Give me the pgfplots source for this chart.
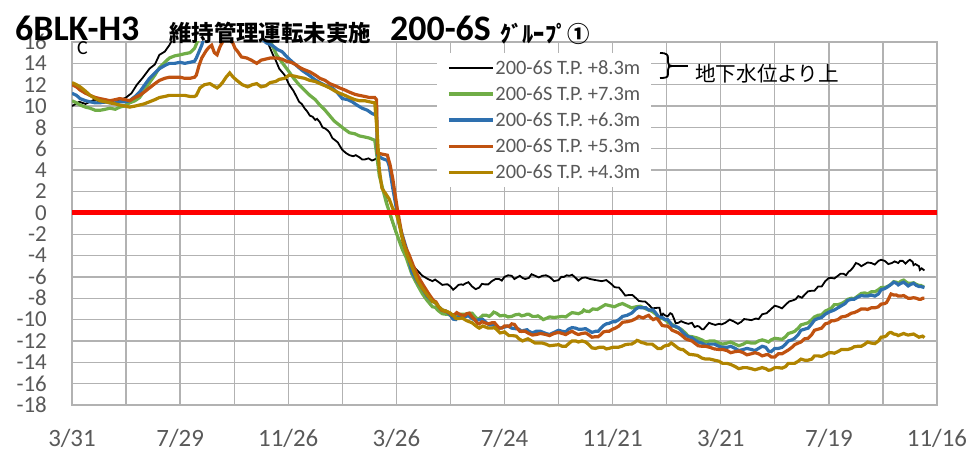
\documentclass[border=0pt]{standalone}
\usepackage{fontspec}
\setmainfont{Carlito}
\newfontfamily\cjk{Noto Sans CJK JP}
\usepackage{pgfplots}
\pgfplotsset{compat=1.18}
\definecolor{cgreen}{RGB}{112,173,71}
\definecolor{cblue}{RGB}{46,112,175}
\definecolor{corange}{RGB}{192,82,16}
\definecolor{cgold}{RGB}{176,132,0}
\definecolor{tgray}{RGB}{89,89,89}
\definecolor{ggray}{RGB}{178,178,178}
\begin{document}
\begin{tikzpicture}
\path[use as bounding box] (0bp,0bp) rectangle (979bp,450bp);
\begin{axis}[
  at={(72bp,45bp)}, anchor=south west,
  scale only axis, width=865bp, height=363bp,
  xmin=0, xmax=960, ymin=-18, ymax=16,
  xtick={0,120,...,960},
  xticklabels={3/31,7/29,11/26,3/26,7/24,11/21,3/21,7/19,11/16},
  minor xtick={60,180,...,900},
  ytick={-18,-16,...,16},
  yticklabels={-18,-16,-14,-12,-10,-8,-6,-4,-2,0,2,4,6,8,10,12,14,16},
  xmajorgrids, xminorgrids, ymajorgrids,
  grid style={ggray, line width=1.3bp},
  minor grid style={ggray, line width=1.3bp},
  axis line style={ggray, line width=1.3bp},
  major tick length=0pt, minor tick length=0pt,
  tick style={draw=none},
  yticklabel style={font=\fontsize{23}{23}\selectfont, text=tgray, anchor=east, inner sep=0pt, xshift=-25bp},
  xticklabel style={font=\fontsize{25}{25}\selectfont, text=tgray, anchor=center, inner sep=0pt, yshift=-33bp},
  legend style={at={(rel axis cs:0.422,0.970)}, anchor=north west, draw=none, fill=white,
    font=\fontsize{20.5}{20.5}\selectfont, text=tgray, inner xsep=10bp, inner ysep=6bp,
    row sep=8.8bp, nodes={inner sep=1bp}},
  legend cell align=left,
  legend image code/.code={\draw[#1] (0bp,0bp) -- (44bp,0bp);},
]
% T.P. +8.3m
\addplot[black, line width=1.8bp] coordinates {
(0,10.0) (8,10.4) (15,10.2) (25,10.6) (35,10.3) (45,10.5) (55,10.6) (60,10.8) (66,11.2) (72,12.0) (78,12.6) (86,13.5) (92,13.9) (97,14.8) (103,15.1) (108,15.7) (112,16.3) (120,17.5) (205,17.5) (212,16.6) (216,16.2) (223,14.8) (226,14.3) (230,13.5) (236,12.9) (241,12.0) (246,11.4) (252,10.4) (255,10.2) (258,9.8) (261,9.5) (264,9.1) (267,9.0) (270,8.7) (272,8.8) (275,8.5) (278,8.0) (281,7.9) (284,7.7) (286,7.5) (289,7.0) (292,6.8) (295,6.6) (297,6.3) (300,5.9) (304,5.6) (308,5.4) (312,5.3) (315,5.4) (319,5.2) (322,5.0) (325,5.0) (329,5.1) (333,4.9) (336,5.0) (338,5.1) (341,3.8) (344,2.5) (349,1.2) (352,0.0) (356,-1.0) (360,-2.0) (366,-3.0) (371,-3.9) (377,-4.8) (382,-5.3) (389,-5.9) (395,-6.2)
(400,-6.4) (403,-6.25) (407,-6.5) (411,-6.75) (415,-6.7) (417,-6.7) (420,-6.9) (423,-7.2) (426,-7.0) (429,-6.75) (432,-6.7) (434,-6.75) (437,-6.6) (440,-6.5) (444,-6.9) (448,-7.15) (452,-7.0) (455,-6.65) (458,-6.7) (462,-6.7) (466,-6.4) (470,-6.2) (474,-6.2) (477,-6.35) (480,-6.0) (484,-5.85) (488,-5.9) (491,-6.2) (495,-6.0) (497,-5.9) (500,-6.1) (503,-6.2) (507,-6.1) (510,-5.75) (514,-5.9) (518,-6.05) (522,-5.9) (526,-5.85) (530,-6.0) (535,-6.4) (540,-6.3) (543,-6.0) (546,-6.0) (549,-5.85) (552,-5.9) (555,-5.8) (559,-6.1) (562,-6.35) (566,-6.1) (570,-6.05) (575,-6.2) (581,-6.3) (588,-6.4) (593,-6.3) (599,-6.7) (602,-6.95) (605,-7.0) (607,-7.0) (610,-7.3) (614,-7.75) (618,-7.7) (622,-7.7) (626,-8.0) (629,-8.25) (633,-8.3) (636,-8.3) (640,-8.6) (644,-8.95) (649,-8.9) (652,-8.9) (654,-9.7) (656,-9.45) (658,-9.6) (661,-9.7) (664,-9.4) (666,-9.5) (668,-9.9) (670,-10.35) (673,-10.3) (676,-10.15) (680,-10.3) (684,-10.4) (688,-10.3) (691,-10.7) (694,-10.6) (696,-10.65) (699,-10.9) (701,-10.9) (704,-10.6) (707,-10.3) (710,-10.4) (714,-10.5) (718,-10.4) (721,-10.45) (725,-10.3) (730,-10.0) (735,-10.2) (739,-10.4) (743,-10.2) (746,-9.95) (750,-10.0) (754,-10.05) (759,-9.9) (762,-9.95) (766,-9.5) (771,-9.4) (776,-9.0) (780,-8.7) (784,-8.8) (788,-8.95) (792,-8.6) (796,-8.3) (800,-8.2) (803,-8.1) (806,-7.8) (810,-7.95) (814,-7.6) (817,-7.35) (821,-7.3) (824,-7.3) (828,-6.9) (832,-6.9) (836,-6.4) (840,-6.1) (843,-6.1) (846,-6.15) (850,-5.9) (853,-5.7) (856,-5.7) (859,-5.85) (862,-5.5) (864,-5.4) (867,-5.1) (870,-4.7) (873,-4.8) (876,-5.0) (880,-4.8) (883,-4.65) (887,-4.7) (891,-4.85) (895,-4.5) (898,-4.4) (902,-4.5) (906,-4.8) (910,-4.7) (913,-4.55) (917,-4.7) (919,-4.5) (922,-4.5) (925,-4.75) (928,-4.5) (930,-4.4) (933,-4.6) (934,-4.9) (936,-4.8) (938,-4.9) (940,-5.0) (941,-5.35) (943,-5.2) (946,-5.4)
};
\addlegendentry{200-6S T.P. +8.3m}
% T.P. +7.3m
\addplot[cgreen, line width=3.2bp] coordinates {
(0,10.5) (5,10.3) (9,10.1) (15,9.9) (20,9.8) (26,9.6) (31,9.6) (37,9.7) (42,9.8) (48,9.7) (53,9.9) (58,10.0) (64,10.3) (70,10.5) (75,10.8) (80,11.4) (86,12.2) (92,12.9) (97,13.6) (103,14.1) (108,14.5) (114,14.7) (120,14.8) (125,14.9) (131,15.0) (136,15.4) (140,16.2) (142,17.0) (218,17.0) (222,15.7) (227,14.8) (233,14.1) (241,13.2) (246,12.6) (252,12.0) (258,11.5) (264,11.0) (270,10.6) (275,10.1) (280,9.7) (286,9.1) (291,8.6) (297,8.2) (303,7.8) (308,7.5) (314,7.4) (319,7.2) (325,7.1) (330,7.0) (336,6.8) (338,5.6) (341,3.5) (345,2.2) (349,0.9) (353,-0.1) (358,-1.4) (363,-2.6) (367,-3.5) (371,-4.2) (377,-5.7) (383,-6.7) (389,-7.6) (394,-8.2)
(400,-8.8) (403,-8.85) (407,-9.2) (411,-9.45) (415,-9.5) (417,-9.5) (420,-9.6) (423,-9.8) (426,-9.7) (429,-9.5) (433,-9.5) (437,-9.5) (441,-9.4) (444,-9.4) (447,-9.7) (450,-9.95) (452,-9.9) (456,-9.6) (460,-9.6) (463,-9.7) (466,-9.5) (468,-9.3) (471,-9.4) (475,-9.65) (480,-9.6) (484,-9.75) (488,-9.7) (492,-9.55) (496,-9.5) (499,-9.65) (502,-9.6) (505,-9.5) (507,-9.5) (511,-9.7) (515,-9.7) (517,-9.65) (520,-9.8) (523,-10.0) (526,-9.9) (530,-9.75) (535,-9.8) (540,-9.75) (544,-9.7) (548,-9.75) (552,-9.5) (555,-9.35) (559,-9.4) (562,-9.45) (566,-9.3) (568,-9.1) (570,-9.2) (574,-9.25) (578,-9.0) (583,-9.05) (588,-8.8) (592,-8.6) (597,-8.7) (602,-8.8) (607,-8.6) (611,-8.5) (616,-8.7) (621,-8.9) (626,-8.8) (631,-8.75) (637,-9.0) (640,-9.1) (643,-9.2) (645,-9.3) (648,-9.5) (651,-9.85) (655,-9.9) (658,-10.0) (662,-10.3) (664,-10.35) (667,-10.5) (670,-10.7) (673,-10.8) (676,-10.9) (680,-11.2) (684,-11.55) (688,-11.6) (693,-11.7) (699,-11.9) (703,-12.1) (708,-12.0) (713,-12.0) (718,-12.2) (722,-12.3) (727,-12.2) (731,-12.1) (736,-12.3) (740,-12.45) (745,-12.3) (749,-12.1) (754,-12.2) (758,-12.2) (762,-12.0) (766,-11.9) (770,-12.0) (773,-12.1) (776,-11.9) (780,-11.75) (784,-11.8) (788,-11.85) (792,-11.6) (795,-11.3) (799,-11.2) (802,-11.1) (806,-10.8) (809,-10.5) (813,-10.4) (817,-10.3) (821,-10.0) (824,-9.75) (828,-9.6) (832,-9.55) (836,-9.2) (840,-9.05) (843,-8.9) (846,-8.6) (850,-8.6) (854,-8.5) (858,-8.3) (861,-8.1) (865,-8.0) (868,-8.05) (872,-7.8) (876,-7.55) (880,-7.5) (883,-7.6) (887,-7.4) (891,-7.4) (895,-7.2) (898,-7.0) (902,-7.0) (905,-6.9) (909,-6.7) (912,-6.45) (915,-6.5) (917,-6.6) (920,-6.4) (923,-6.3) (926,-6.5) (928,-6.6) (931,-6.6) (934,-6.55) (937,-6.7) (940,-6.8) (942,-6.8) (944,-6.9) (946,-6.9)
};
\addlegendentry{200-6S T.P. +7.3m}
% T.P. +6.3m
\addplot[cblue, line width=3.2bp] coordinates {
(0,11.2) (5,11.0) (9,10.7) (15,10.5) (20,10.4) (26,10.3) (31,10.3) (37,10.4) (42,10.3) (48,10.3) (53,10.4) (59,10.4) (64,10.5) (70,10.9) (75,11.3) (80,11.9) (86,12.6) (92,13.1) (97,13.5) (103,13.8) (108,14.0) (114,14.0) (120,14.1) (125,14.0) (131,14.1) (136,14.2) (138,14.5) (144,15.7) (147,16.5) (149,17.5) (205,17.0) (208,16.6) (212,16.2) (216,15.9) (222,15.7) (228,15.3) (233,15.1) (241,14.4) (249,13.8) (256,13.3) (263,12.9) (269,12.5) (275,12.2) (282,11.9) (289,11.7) (295,11.2) (300,10.7) (306,10.6) (311,10.4) (316,10.1) (322,9.8) (328,9.6) (333,9.3) (336,9.2) (338,9.4) (339,5.4) (344,5.1) (350,4.9) (352,4.4) (356,2.3) (360,0.4) (363,-1.0) (367,-2.2) (371,-3.3) (377,-5.5) (383,-6.4) (389,-7.1) (394,-7.8)
(400,-8.3) (403,-8.4) (407,-8.8) (411,-9.1) (415,-9.2) (417,-9.35) (420,-9.6) (423,-9.95) (426,-10.0) (429,-9.75) (432,-9.8) (434,-9.8) (437,-9.7) (440,-9.65) (444,-9.9) (448,-10.1) (452,-10.0) (456,-10.0) (460,-10.3) (463,-10.5) (466,-10.5) (468,-10.5) (471,-10.6) (475,-10.8) (480,-10.7) (484,-10.6) (488,-10.8) (492,-10.85) (496,-10.9) (499,-11.1) (502,-11.0) (505,-10.95) (507,-11.1) (511,-11.25) (515,-11.1) (520,-11.1) (526,-11.3) (530,-11.4) (535,-11.2) (540,-11.0) (544,-11.1) (548,-11.15) (551,-10.9) (555,-10.75) (559,-10.8) (562,-10.9) (566,-10.9) (570,-10.85) (573,-11.0) (577,-11.2) (581,-11.1) (584,-11.1) (587,-10.8) (590,-10.55) (593,-10.4) (596,-10.35) (600,-10.2) (603,-10.2) (607,-10.0) (611,-9.7) (616,-9.6) (621,-9.4) (626,-9.0) (629,-8.85) (632,-8.9) (634,-8.9) (637,-8.9) (640,-9.1) (642,-9.1) (645,-9.1) (648,-9.4) (651,-9.75) (655,-9.8) (656,-9.85) (658,-10.0) (661,-10.0) (664,-10.3) (666,-10.6) (669,-10.6) (673,-10.75) (677,-11.1) (681,-11.45) (684,-11.6) (688,-11.7) (691,-11.9) (695,-12.1) (699,-12.2) (703,-12.4) (708,-12.3) (713,-12.3) (718,-12.5) (722,-12.6) (727,-12.6) (731,-12.5) (736,-12.7) (740,-12.9) (745,-12.8) (749,-12.7) (754,-12.8) (758,-12.9) (762,-12.7) (766,-12.5) (770,-12.6) (773,-12.95) (776,-13.0) (780,-12.7) (784,-12.7) (788,-12.6) (792,-12.3) (795,-12.0) (799,-11.9) (802,-11.75) (806,-11.4) (809,-11.0) (813,-10.9) (817,-10.8) (821,-10.4) (824,-10.05) (828,-9.9) (832,-9.8) (836,-9.5) (840,-9.3) (843,-9.2) (846,-9.1) (850,-8.9) (854,-8.7) (858,-8.5) (861,-8.2) (865,-8.1) (868,-8.1) (872,-7.9) (876,-7.75) (880,-7.8) (883,-7.8) (887,-7.7) (891,-7.8) (895,-7.6) (898,-7.2) (902,-7.1) (905,-6.95) (909,-6.7) (912,-6.5) (915,-6.6) (917,-6.75) (920,-6.6) (923,-6.5) (926,-6.7) (928,-6.85) (931,-6.7) (934,-6.6) (937,-6.8) (940,-6.9) (942,-6.9) (944,-6.95) (946,-7.0)
};
\addlegendentry{200-6S T.P. +6.3m}
% T.P. +5.3m
\addplot[corange, line width=3.2bp] coordinates {
(0,12.0) (5,11.8) (9,11.5) (15,11.2) (20,11.0) (26,10.8) (31,10.7) (37,10.6) (42,10.5) (48,10.6) (53,10.7) (59,10.6) (64,10.5) (70,10.8) (75,11.0) (80,11.3) (86,11.7) (92,12.1) (97,12.4) (103,12.6) (108,12.7) (114,12.7) (120,12.7) (125,12.6) (131,12.6) (136,12.7) (138,12.9) (141,13.8) (144,14.5) (149,15.2) (152,15.5) (155,15.7) (158,15.0) (161,14.8) (164,15.5) (167,16.0) (170,16.8) (172,17.2) (175,16.5) (178,16.0) (181,15.4) (184,15.1) (188,14.6) (194,14.5) (199,14.3) (205,14.0) (210,14.3) (215,14.4) (220,14.5) (227,14.5) (233,14.4) (238,14.2) (243,14.1) (248,13.9) (253,13.6) (258,13.4) (264,13.2) (270,12.9) (275,12.6) (281,12.4) (286,12.1) (292,11.9) (297,11.7) (303,11.5) (308,11.3) (314,11.1) (319,11.0) (325,10.9) (330,10.8) (336,10.8) (338,10.6) (339,5.6) (344,5.5) (350,5.4) (353,4.5) (356,3.2) (359,1.5) (361,0.4) (366,-2.0) (370,-3.2) (374,-3.9) (379,-5.0) (385,-6.1) (390,-6.8) (396,-7.6)
(401,-8.2) (404,-8.35) (407,-8.8) (410,-9.1) (413,-9.2) (416,-9.25) (419,-9.4) (422,-9.6) (425,-9.5) (427,-9.35) (430,-9.5) (433,-9.6) (436,-9.6) (438,-9.45) (441,-9.4) (444,-9.75) (447,-10.0) (450,-10.35) (452,-10.4) (455,-10.2) (458,-10.3) (462,-10.4) (466,-10.3) (469,-10.3) (472,-10.6) (474,-10.8) (477,-10.8) (480,-10.6) (483,-10.6) (485,-10.65) (488,-10.4) (491,-10.45) (494,-10.8) (497,-11.1) (500,-11.1) (503,-11.1) (507,-11.3) (511,-11.45) (515,-11.4) (520,-11.3) (526,-11.4) (530,-11.5) (535,-11.3) (540,-11.2) (544,-11.3) (548,-11.4) (552,-11.2) (555,-11.1) (559,-11.3) (562,-11.4) (566,-11.3) (570,-11.25) (573,-11.4) (577,-11.65) (581,-11.6) (584,-11.6) (587,-11.4) (590,-11.15) (593,-11.1) (596,-11.1) (600,-10.9) (603,-10.8) (607,-10.6) (611,-10.25) (616,-10.2) (621,-10.1) (626,-9.9) (629,-9.7) (632,-9.8) (634,-9.85) (637,-9.7) (640,-9.6) (642,-9.8) (645,-10.0) (648,-9.9) (650,-9.95) (652,-10.2) (655,-10.55) (658,-10.6) (661,-10.6) (664,-10.8) (666,-11.0) (669,-11.1) (673,-11.25) (677,-11.5) (681,-11.8) (684,-11.9) (688,-12.0) (691,-12.2) (695,-12.45) (699,-12.5) (703,-12.5) (708,-12.6) (713,-12.75) (718,-12.8) (722,-12.8) (727,-12.9) (731,-13.1) (736,-13.0) (740,-12.95) (745,-13.1) (749,-13.3) (754,-13.2) (758,-13.1) (762,-13.2) (766,-13.4) (770,-13.3) (773,-13.3) (776,-13.5) (780,-13.5) (784,-13.2) (788,-13.2) (792,-13.0) (795,-12.85) (799,-12.6) (802,-12.35) (806,-12.2) (809,-12.1) (813,-11.8) (817,-11.75) (821,-11.4) (824,-11.0) (828,-10.9) (832,-10.8) (836,-10.4) (840,-10.3) (843,-10.1) (846,-10.1) (850,-10.0) (854,-9.75) (858,-9.7) (861,-9.6) (865,-9.4) (868,-9.35) (872,-9.2) (876,-9.0) (880,-9.0) (883,-9.05) (887,-8.9) (891,-8.9) (895,-8.8) (898,-8.55) (902,-8.5) (904,-8.4) (906,-8.1) (908,-7.75) (909,-7.6) (912,-7.7) (915,-7.7) (917,-7.8) (920,-7.8) (923,-7.75) (926,-7.9) (928,-8.0) (931,-8.0) (934,-7.95) (937,-8.0) (940,-8.1) (942,-8.1) (944,-8.0) (946,-8.0)
};
\addlegendentry{200-6S T.P. +5.3m}
% T.P. +4.3m
\addplot[cgold, line width=3.2bp] coordinates {
(0,12.2) (5,12.0) (9,11.8) (15,11.4) (20,11.0) (26,10.7) (31,10.5) (37,10.4) (42,10.3) (48,10.2) (53,10.1) (59,10.0) (64,9.9) (70,10.0) (75,10.1) (80,10.2) (86,10.4) (92,10.6) (97,10.8) (103,10.9) (108,11.0) (114,11.0) (120,11.0) (125,11.0) (131,10.9) (136,10.9) (138,11.0) (142,11.7) (147,12.0) (153,12.1) (157,11.9) (161,11.7) (164,11.9) (167,12.2) (171,12.7) (175,13.1) (179,12.7) (183,12.4) (189,12.0) (195,11.8) (200,12.0) (205,12.1) (210,11.8) (215,11.9) (220,12.2) (226,12.3) (230,12.5) (236,12.6) (241,12.9) (247,12.8) (252,12.7) (258,12.6) (264,12.4) (270,12.3) (275,12.1) (281,11.9) (286,11.7) (292,11.4) (297,11.2) (303,11.0) (308,10.8) (314,10.6) (319,10.5) (325,10.5) (330,10.4) (336,10.3) (339,7.2) (341,4.1) (344,2.3) (348,1.8) (352,1.3) (356,0.4) (360,-0.1) (363,-1.0) (367,-2.6) (372,-4.0) (378,-5.2) (383,-6.3) (389,-7.1) (395,-7.8)
(400,-8.3) (403,-8.4) (407,-8.8) (411,-9.1) (415,-9.2) (419,-9.35) (423,-9.6) (426,-9.9) (430,-9.9) (433,-9.85) (436,-10.0) (438,-10.1) (441,-10.2) (444,-10.3) (447,-10.5) (450,-10.7) (452,-10.8) (456,-10.6) (459,-10.7) (462,-10.8) (466,-10.8) (469,-10.75) (472,-11.0) (475,-11.25) (478,-11.2) (480,-11.15) (482,-11.3) (485,-11.5) (489,-11.5) (493,-11.55) (496,-11.8) (500,-12.0) (503,-11.9) (506,-11.8) (510,-12.0) (514,-12.2) (518,-12.2) (522,-12.2) (526,-12.3) (530,-12.45) (535,-12.4) (540,-12.35) (544,-12.5) (548,-12.5) (552,-12.2) (555,-12.0) (559,-12.0) (562,-12.1) (566,-12.0) (570,-12.1) (573,-12.3) (577,-12.65) (581,-12.7) (585,-12.6) (590,-12.6) (593,-12.75) (596,-12.7) (600,-12.6) (603,-12.6) (606,-12.6) (610,-12.5) (614,-12.35) (618,-12.3) (621,-12.3) (625,-12.1) (627,-11.95) (629,-12.0) (632,-12.15) (635,-12.2) (638,-12.3) (640,-12.3) (644,-12.3) (647,-12.5) (650,-12.7) (654,-12.7) (657,-12.5) (660,-12.4) (662,-12.4) (665,-12.2) (667,-12.3) (670,-12.5) (673,-12.7) (676,-12.8) (678,-12.8) (681,-13.0) (685,-13.25) (690,-13.3) (694,-13.35) (699,-13.6) (703,-13.7) (708,-13.7) (713,-13.8) (718,-13.9) (722,-14.1) (727,-14.1) (731,-14.2) (736,-14.4) (740,-14.6) (745,-14.5) (749,-14.5) (754,-14.6) (758,-14.7) (762,-14.6) (766,-14.5) (770,-14.6) (773,-14.75) (776,-14.7) (780,-14.5) (784,-14.5) (788,-14.55) (792,-14.4) (795,-14.1) (799,-14.1) (802,-14.1) (806,-13.9) (809,-13.7) (813,-13.8) (817,-13.8) (821,-13.7) (824,-13.4) (828,-13.4) (832,-13.45) (836,-13.3) (840,-13.1) (843,-13.1) (846,-13.15) (850,-13.0) (854,-12.8) (858,-12.8) (861,-12.8) (865,-12.7) (868,-12.55) (872,-12.5) (876,-12.5) (880,-12.3) (883,-12.1) (887,-12.2) (891,-12.25) (895,-12.0) (898,-11.65) (902,-11.6) (904,-11.5) (906,-11.3) (908,-11.2) (909,-11.2) (912,-11.35) (915,-11.4) (917,-11.5) (920,-11.4) (923,-11.3) (926,-11.4) (928,-11.45) (931,-11.4) (934,-11.35) (937,-11.5) (940,-11.65) (942,-11.6) (944,-11.55) (946,-11.7)
};
\addlegendentry{200-6S T.P. +4.3m}
\addplot[red, line width=5bp, forget plot] coordinates {(0,0) (960,0)};
\end{axis}
\node[anchor=base west, inner sep=0pt, font=\bfseries\fontsize{36}{36}\selectfont] at (15bp,409bp) {6BLK-H3};
\node[anchor=base west, inner sep=0pt, font=\cjk\bfseries\fontsize{22.5}{22.5}\selectfont] at (169bp,408.5bp) {維持管理運転未実施};
\node[anchor=base west, inner sep=0pt, font=\bfseries\fontsize{36}{36}\selectfont] at (390bp,409bp) {200-6S};
\node[anchor=base west, inner sep=0pt, font=\cjk\bfseries\fontsize{22.5}{22.5}\selectfont] at (500bp,407bp) {ｸﾞﾙｰﾌﾟ①};
\node[anchor=base west, inner sep=0pt, font=\fontsize{20}{20}\selectfont] at (77bp,395bp) {C};
\draw[black, line width=1.8bp] (660bp,397bp) .. controls (667bp,397bp) and (668bp,395bp) .. (668bp,392bp) -- (668bp,388bp) .. controls (668bp,385bp) and (669bp,384bp) .. (672bp,384bp) .. controls (669bp,384bp) and (668bp,383bp) .. (668bp,380bp) -- (668bp,376bp) .. controls (668bp,373bp) and (667bp,372bp) .. (660bp,372bp);
\draw[black, line width=1.8bp] (672bp,384bp) -- (688bp,384bp);
\node[anchor=base west, inner sep=0pt, font=\cjk\fontsize{20.7}{20.7}\selectfont] at (695bp,368.5bp) {地下水位より上};
\end{tikzpicture}
\end{document}
